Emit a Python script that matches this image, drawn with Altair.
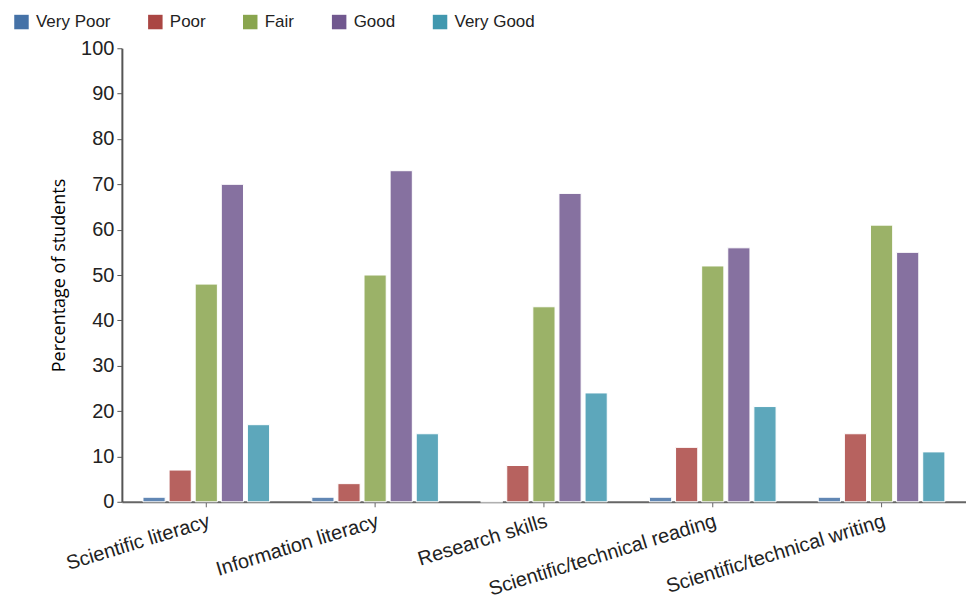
import altair as alt
import pandas as pd

categories = ["Scientific literacy", "Information literacy", "Research skills",
              "Scientific/technical reading", "Scientific/technical writing"]
ratings = ["Very Poor", "Poor", "Fair", "Good", "Very Good"]
very_poor = [1, 1, 0, 1, 1]
poor = [7, 4, 8, 12, 15]
fair = [48, 50, 43, 52, 61]
good = [70, 73, 68, 56, 55]
very_good = [17, 15, 24, 21, 11]
colors = ["#4572A7", "#AA4643", "#89A54E", "#71588F", "#4198AF"]

series = [very_poor, poor, fair, good, very_good]
rows = []
for r, vals in zip(ratings, series):
    for c, v in zip(categories, vals):
        rows.append({"category": c, "rating": r, "value": v})
df = pd.DataFrame(rows)

chart = alt.Chart(df).mark_bar(fillOpacity=0.85, stroke="white", strokeWidth=1).encode(
    x=alt.X("category:N", sort=categories, title=None,
            scale=alt.Scale(paddingInner=0.25, paddingOuter=0.125),
            axis=alt.Axis(labelAngle=-17, labelAlign="right", labelBaseline="top",
                          labelFontSize=20, labelFont="Liberation Sans", labelColor="#222",
                          domainColor="#666", domainWidth=2, tickColor="#666",
                          tickSize=5, labelPadding=4, labelLimit=400)),
    xOffset=alt.XOffset("rating:N", sort=ratings, scale=alt.Scale(paddingInner=0.15)),
    y=alt.Y("value:Q", title="Percentage of students",
            scale=alt.Scale(domain=[0, 100]),
            axis=alt.Axis(values=list(range(0, 101, 10)), grid=False,
                          labelFontSize=20, labelFont="Liberation Sans", labelColor="#222",
                          domainColor="#555", domainWidth=2, tickColor="#555", tickSize=5,
                          titleFont="Open Sans", titleFontSize=18, titleFontWeight="normal",
                          titleColor="#000", titlePadding=12, labelPadding=3)),
    color=alt.Color("rating:N", sort=ratings,
                    scale=alt.Scale(domain=ratings, range=colors),
                    legend=alt.Legend(title=None, orient="none", direction="horizontal",
                                      legendX=-109, legendY=-35,
                                      symbolType="square", symbolSize=210,
                                      symbolOpacity=1, symbolStrokeWidth=0,
                                      labelFontSize=17, labelFont="Liberation Sans",
                                      labelColor="#222", columnPadding=36,
                                      labelOffset=6)),
).properties(
    width=845, height=454,
    autosize=alt.AutoSizeParams(type="none"),
    padding={"left": 122, "top": 48, "right": 0, "bottom": 103},
).configure_view(stroke=None)

chart.save("out.html", embed_options={"renderer": "svg", "actions": False})
